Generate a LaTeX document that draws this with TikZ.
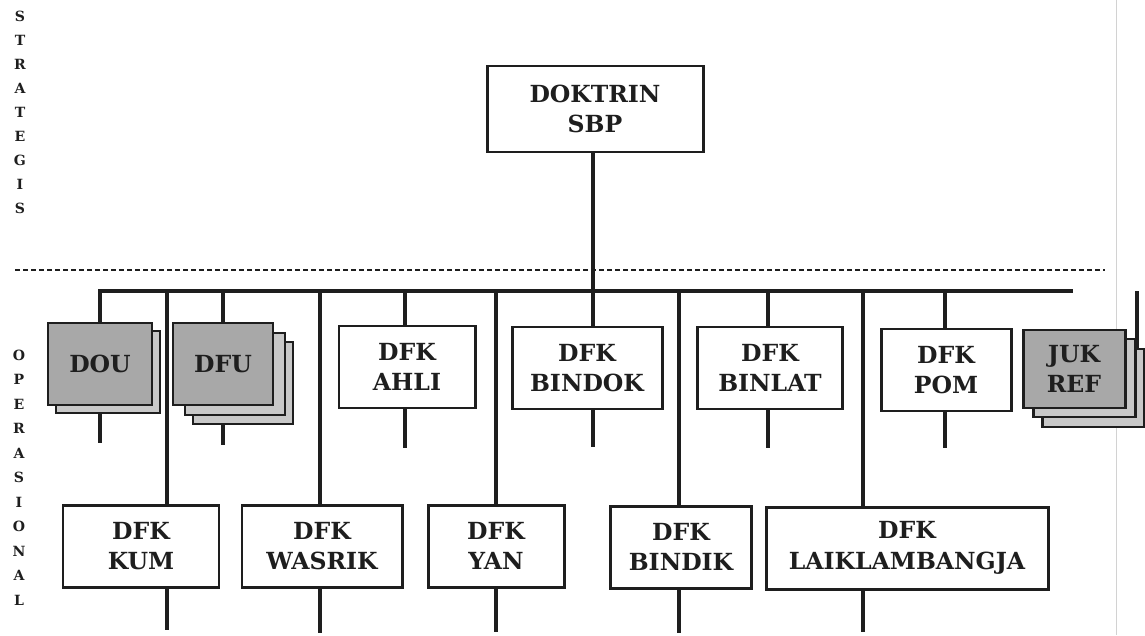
\documentclass[tikz,border=0pt]{standalone}
\usepackage{fontspec}
\setmainfont{DejaVu Serif}
\usetikzlibrary{positioning}
\definecolor{inkblack}{HTML}{1E1E1E}
\definecolor{frontgray}{HTML}{A8A8A8}
\definecolor{backgray}{HTML}{C8C8C8}
\definecolor{edgegray}{HTML}{D2D2D2}
\newlength{\px}
\setlength{\px}{0.02cm}

\begin{document}
\begin{tikzpicture}[
		x=0.02cm,
		y=-0.02cm,
		every node/.style={font=\bfseries\fontsize{13.4}{17.5}\selectfont, text=inkblack},
		unit/.style={draw=inkblack, line width=1.7pt, fill=white, align=center,
			inner sep=0pt, minimum height=82\px},
		layer/.style={unit, fill=backgray},
		staff/.style={unit, fill=frontgray},
		link/.style={draw=inkblack, line width=2.4pt},
		side/.style={font=\bfseries\fontsize{8}{9}\selectfont}
	]
	\useasboundingbox (0,0) rectangle (1145,635);

	% level letters
	\foreach \ch [count=\i] in {S,T,R,A,T,E,G,I,S}
		\node[side] (str-\i) at (20,{16+24.1*(\i-1)}) {\ch};
	\foreach \ch [count=\i] in {O,P,E,R,A,S,I,O,N,A,L}
		\node[side] (ops-\i) at (19,{355+24.5*(\i-1)}) {\ch};

	\draw[edgegray, line width=0.5pt] (1116,0) -- (1116,635);
	\draw[inkblack, line width=0.7pt, dash pattern=on 5\px off 3\px]
		(15,270) -- (1105,270);

	\node[unit, minimum width=216\px, minimum height=86\px] (doktrin)
		at (595,109) {DOKTRIN\\SBP};

	% stacked boxes
	\node[layer, minimum width=104\px] (dou-b) at (108,372) {};
	\node[staff, minimum width=104\px] (dou) at (100,364) {DOU};

	\node[layer, minimum width=100\px] (dfu-c) at (243,383) {};
	\node[layer, minimum width=100\px] (dfu-b) at (235,374) {};
	\node[staff, minimum width=100\px] (dfu) at (223,364) {DFU};

	\node[layer, minimum width=102\px, minimum height=78\px] (jukref-c) at (1093,388) {};
	\node[layer, minimum width=102\px, minimum height=78\px] (jukref-b) at (1084,378) {};
	\node[staff, minimum width=102\px, minimum height=78\px] (jukref) at (1074,369) {JUK\\REF};

	% DFK boxes
	\foreach \name/\x/\y/\w/\label in {
		ahli/407/367/136/AHLI,
		bindok/587/368/150/BINDOK,
		binlat/770/368/145/BINLAT,
		pom/946/370/130/POM,
		kum/141/546/156/KUM,
		wasrik/322/546/160/WASRIK,
		yan/496/546/136/YAN,
		bindik/681/547/141/BINDIK,
		laik/907/548/282/LAIKLAMBANGJA
	}{
		\node[unit, minimum width=\w\px] (\name) at (\x,\y) {DFK\\\label};
	}

	% bus
	\coordinate (bus-w) at (98,291);
	\coordinate (bus-e) at (1073,291);
	\draw[link] (bus-w) -- (bus-e);
	\draw[link] (doktrin.south -| 593,0) -- (593,291);

	\foreach \name/\base/\x/\low in {
		dou/dou-b/100/443,
		dfu/dfu-c/223/445,
		ahli/ahli/405/448,
		bindok/bindok/593/447,
		binlat/binlat/768/448,
		pom/pom/945/448,
		kum/kum/167/630,
		wasrik/wasrik/320/633,
		yan/yan/496/632,
		bindik/bindik/679/633,
		laik/laik/863/632
	}{
		\coordinate (tap-\name) at (\x,291);
		\coordinate (end-\name) at (\x,\low);
		\draw[link] (tap-\name) -- (tap-\name |- \name.north);
		\draw[link] (tap-\name |- \base.south) -- (end-\name);
	}

	\coordinate (tap-jukref) at (1137,291);
	\draw[link] (tap-jukref) -- (tap-jukref |- jukref-c.north);
\end{tikzpicture}
\end{document}
